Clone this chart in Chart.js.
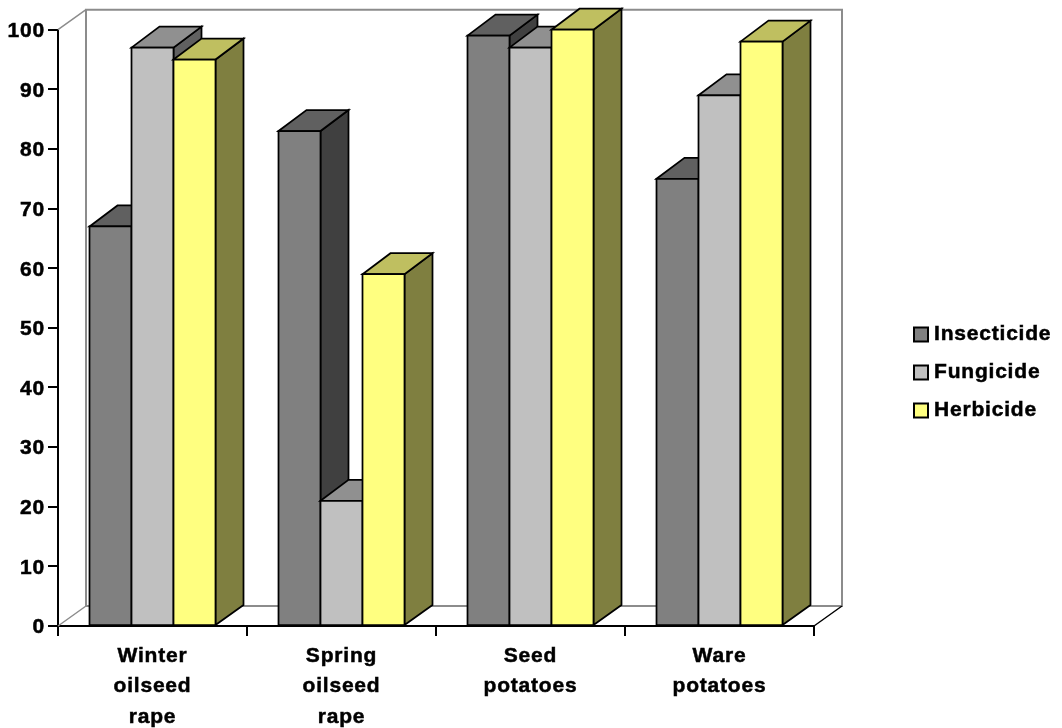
<!DOCTYPE html>
<html>
<head>
<meta charset="utf-8">
<style>html,body{margin:0;padding:0;background:#fff}canvas{display:block}</style>
<script src="https://cdn.jsdelivr.net/npm/chart.js@4/dist/chart.umd.min.js"></script>
</head>
<body>
<canvas id="chart" width="1062" height="728"></canvas>
<script>
const categories = [["Winter","oilseed","rape"],["Spring","oilseed","rape"],["Seed","potatoes"],["Ware","potatoes"]];
const insecticide = [67, 83, 99, 75];
const fungicide = [97, 21, 97, 89];
const herbicide = [95, 59, 100, 98];
const yTicks = {min: 0, max: 100, step: 10};

const fonts = {family: '"Liberation Sans", Arial, sans-serif', weight: 'bold', size: 21};
const depthX = 28, depthY = 21, wallDepthY = 20;
const spacing = '0.8px';
const textWeight = 0.5;

// Shaded faces for each series: [top face, side face]
const faces = [['#606060', '#404040'], ['#909090', '#606060'], ['#BFBF60', '#7F7F40']];

function polygon(ctx, pts, fill, stroke, width) {
  ctx.beginPath();
  pts.forEach((p, i) => i ? ctx.lineTo(p[0], p[1]) : ctx.moveTo(p[0], p[1]));
  ctx.closePath();
  if (fill) { ctx.fillStyle = fill; ctx.fill(); }
  ctx.strokeStyle = stroke; ctx.lineWidth = width; ctx.stroke();
}

const textSpacing = {
  id: 'textSpacing',
  beforeUpdate(chart) { chart.ctx.letterSpacing = spacing; },
  beforeDraw(chart) { chart.ctx.letterSpacing = spacing; }
};

// Places the legend in the band to the right of the plot and paints its keys,
// which sit closer to their text than the built-in layout allows
const legendPlacement = {
  id: 'legendPlacement',
  afterLayout(chart) {
    const l = chart.legend, pad = l.options.labels.padding;
    const dx = 914 - pad - l.left, dy = 324 - pad - l.top;
    l.left += dx; l.right += dx; l.top += dy; l.bottom += dy;
  },
  afterDraw(chart) {
    const l = chart.legend, labels = l.options.labels, ctx = chart.ctx;
    const rowH = labels.font.size + labels.padding;
    ctx.save();
    ctx.font = `${fonts.weight} ${fonts.size}px ${fonts.family}`;
    ctx.textBaseline = 'middle';
    ctx.textAlign = 'left';
    chart.data.datasets.forEach((ds, i) => {
      const cy = l.top + labels.padding + i * rowH + labels.font.size / 2;
      const x = l.left + labels.padding;
      ctx.fillStyle = ds.backgroundColor;
      ctx.strokeStyle = '#000';
      ctx.lineWidth = 2;
      ctx.fillRect(x, cy - 7, 14, 14);
      ctx.strokeRect(x, cy - 7, 14, 14);
      ctx.lineWidth = textWeight;
      ctx.strokeText(ds.label, x + labels.boxWidth + labels.font.size / 2, cy);
    });
    ctx.restore();
  }
};

// Back wall, floor edges and extruded bars; series are painted front to back in dataset order
const solidBars = {
  id: 'solidBars',
  beforeDatasetsDraw(chart) {
    const ctx = chart.ctx, a = chart.chartArea;
    ctx.save();
    const grey = '#8C8C8C';
    ctx.lineCap = 'square';
    polygon(ctx, [[a.left + depthX, a.top - wallDepthY], [a.right + depthX, a.top - wallDepthY],
                  [a.right + depthX, a.bottom - wallDepthY], [a.left + depthX, a.bottom - wallDepthY]], null, grey, 2);
    polygon(ctx, [[a.left, a.top], [a.left + depthX, a.top - wallDepthY]], null, grey, 1.5);
    polygon(ctx, [[a.left, a.bottom], [a.left + depthX, a.bottom - wallDepthY]], null, grey, 1.5);
    polygon(ctx, [[a.right, a.bottom], [a.right + depthX, a.bottom - wallDepthY]], null, '#000', 1.5);

    chart.data.datasets.forEach((ds, d) => {
      chart.getDatasetMeta(d).data.forEach(bar => {
        const p = bar.getProps(['x', 'y', 'base', 'width'], true);
        const l = p.x - p.width / 2, r = p.x + p.width / 2, t = p.y, b = p.base;
        polygon(ctx, [[r, t], [r + depthX, t - depthY], [r + depthX, b - wallDepthY], [r, b]], faces[d][1], '#000', 1.75);
        polygon(ctx, [[l, t], [l + depthX, t - depthY], [r + depthX, t - depthY], [r, t]], faces[d][0], '#000', 1.75);
        bar.draw(ctx, a);
        polygon(ctx, [[l, t], [r, t], [r, b], [l, b]], null, '#000', 1.75);
      });
    });
    ctx.restore();
    return false;
  }
};

new Chart(document.getElementById('chart'), {
  type: 'bar',
  data: {
    labels: categories,
    datasets: [
      {label: 'Insecticide', data: insecticide, backgroundColor: '#808080', borderColor: '#000', borderWidth: 0},
      {label: 'Fungicide', data: fungicide, backgroundColor: '#C0C0C0', borderColor: '#000', borderWidth: 0},
      {label: 'Herbicide', data: herbicide, backgroundColor: '#FFFF80', borderColor: '#000', borderWidth: 0}
    ]
  },
  plugins: [textSpacing, legendPlacement, solidBars],
  options: {
    responsive: false,
    animation: false,
    layout: {autoPadding: false, padding: {left: 0, top: 29.7, right: 248, bottom: 0}},
    datasets: {bar: {categoryPercentage: 2 / 3, barPercentage: 1}},
    plugins: {
      title: {display: false},
      tooltip: {enabled: false},
      legend: {
        position: 'chartArea',
        align: 'start',
        labels: {boxWidth: 9.5, boxHeight: 14, padding: 17, color: '#000', font: fonts}
      }
    },
    scales: {
      x: {
        afterFit(s) { s.height = 102; },
        grid: {drawOnChartArea: false, color: '#000', lineWidth: 2, tickLength: 10, offset: true},
        border: {color: '#000', width: 2},
        ticks: {color: '#000', font: {...fonts, lineHeight: 1.45}, padding: 5, maxRotation: 0, autoSkip: false,
                textStrokeColor: '#000', textStrokeWidth: textWeight}
      },
      y: {
        min: yTicks.min, max: yTicks.max,
        afterFit(s) { s.width = 58; },
        grid: {drawOnChartArea: false, color: '#000', lineWidth: 2, tickLength: 10},
        border: {color: '#000', width: 2},
        ticks: {color: '#000', font: fonts, stepSize: yTicks.step, padding: 3, labelOffset: 1.5,
                textStrokeColor: '#000', textStrokeWidth: textWeight}
      }
    }
  }
});
</script>
</body>
</html>
